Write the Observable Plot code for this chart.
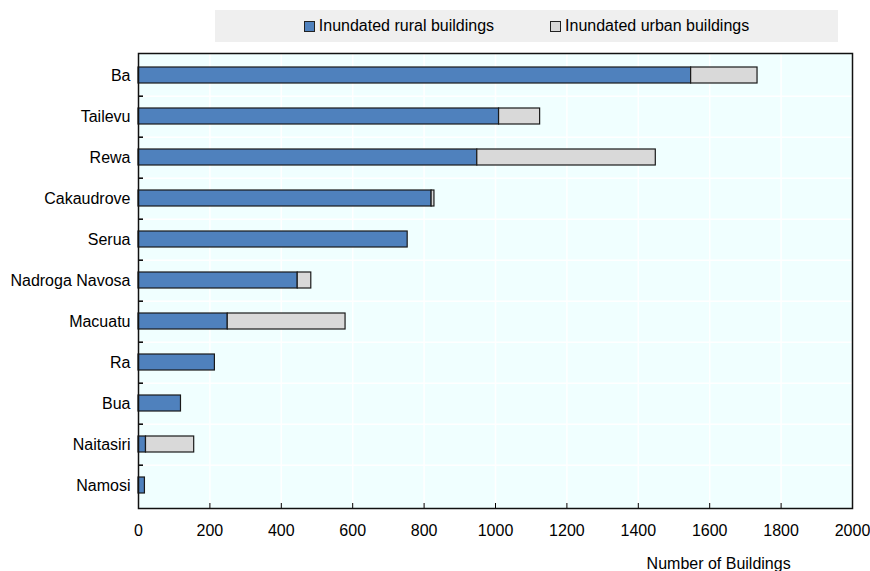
<!DOCTYPE html>
<html>
<head>
<meta charset="utf-8">
<script src="https://cdn.jsdelivr.net/npm/d3@7"></script>
<script src="https://cdn.jsdelivr.net/npm/@observablehq/plot@0.6"></script>
<style>
  body { margin: 0; background: #fff; font-family: "Liberation Sans", Arial, sans-serif; }
  #legend { margin: 10px 0 0 215px; width: 623px; height: 32px; background: #efefef;
    display: flex; align-items: center; justify-content: center; font-size: 16px; color: #000; }
  #legend .item { display: flex; align-items: center; }
  #legend .item + .item { margin-left: 56px; }
  #legend .sw { width: 9px; height: 9px; border: 1px solid #222; margin-right: 4px; }
  #chart svg { display: block; }
</style>
</head>
<body>
<div id="legend"></div>
<div id="chart"></div>
<script>
const categories = ["Ba", "Tailevu", "Rewa", "Cakaudrove", "Serua", "Nadroga Navosa", "Macuatu", "Ra", "Bua", "Naitasiri", "Namosi"];
const rural = [1548, 1010, 949, 821, 754, 446, 250, 214, 119, 21, 18];
const urban = [186, 115, 500, 8, 0, 38, 330, 0, 0, 135, 0];
const seriesNames = ["Inundated rural buildings", "Inundated urban buildings"];
const seriesColors = ["#4f81bd", "#d9d9d9"];
const xTicks = [0, 200, 400, 600, 800, 1000, 1200, 1400, 1600, 1800, 2000];
const xLabel = "Number of Buildings";

const data = [];
categories.forEach((c, i) => {
  data.push({cat: c, series: seriesNames[0], value: rural[i]});
  data.push({cat: c, series: seriesNames[1], value: urban[i]});
});

// legend
const legend = document.getElementById("legend");
seriesNames.forEach((s, i) => {
  const it = document.createElement("div");
  it.className = "item";
  const sw = document.createElement("span");
  sw.className = "sw";
  sw.style.background = seriesColors[i];
  const t = document.createElement("span");
  t.textContent = s;
  it.appendChild(sw); it.appendChild(t);
  legend.appendChild(it);
});

const W = 870, H = 529, mT = 11, mB = 63, mL = 138, mR = 18;
const step = (H - mT - mB) / categories.length;
const frameH = H - mT - mB;

const chart = Plot.plot({
  width: W,
  height: H,
  marginTop: mT,
  marginBottom: mB,
  marginLeft: mL,
  marginRight: mR,
  style: {fontFamily: "'Liberation Sans', Arial, sans-serif", fontSize: "16px", color: "#000", background: "transparent"},
  x: {domain: [0, 2000], ticks: xTicks},
  y: {domain: categories, paddingInner: 0.6, paddingOuter: 0.3},
  color: {domain: seriesNames, range: seriesColors},
  marks: [
    Plot.frame({fill: "#f0ffff"}),
    Plot.ruleX(xTicks, {x: d => d, stroke: "#fff", strokeWidth: 1.5}),
    Plot.ruleY(categories.slice(0, -1), {y: d => d, dy: step / 2, stroke: "#fff", strokeWidth: 1.5}),
    Plot.barX(data, Plot.stackX({y: "cat", x: "value", fill: "series", stroke: "#1a1a1a", strokeWidth: 1.2, order: null})),
    Plot.ruleX(xTicks, {x: d => d, stroke: "#000", insetTop: frameH - 5}),
    Plot.ruleY(categories.slice(0, -1), {y: d => d, dy: step / 2, x1: 0, x2: 14, stroke: "#000", strokeWidth: 1.5}),
    Plot.axisX({ticks: xTicks, tickSize: 0, tickPadding: 16, label: null, tickFormat: d => String(d), fontSize: 16}),
    Plot.axisY({tickSize: 0, tickPadding: 8, label: null, fontSize: 16}),
    Plot.frame({stroke: "#111", strokeWidth: 1.5}),
    Plot.text([xLabel], {x: 1625, frameAnchor: "bottom", dy: 55, lineAnchor: "middle", textAnchor: "middle", fontSize: 16})
  ]
});
document.getElementById("chart").appendChild(chart);
</script>
</body>
</html>
